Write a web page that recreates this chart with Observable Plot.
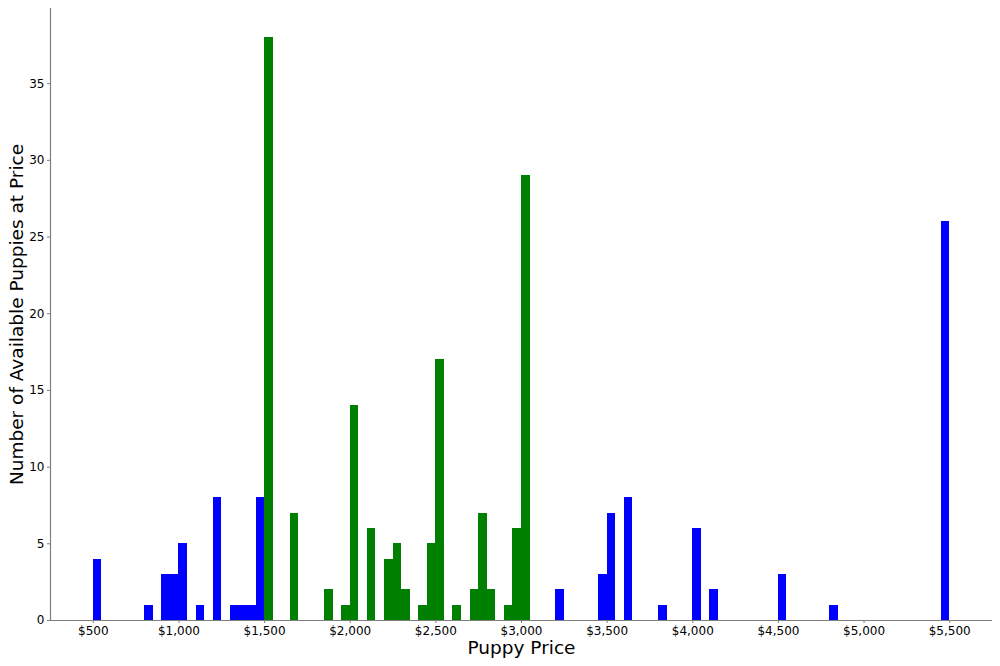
<!DOCTYPE html>
<html>
<head>
<meta charset="utf-8">
<script src="https://cdn.jsdelivr.net/npm/d3@7"></script>
<script src="https://cdn.jsdelivr.net/npm/@observablehq/plot@0.6"></script>
<style>
  html, body { margin: 0; padding: 0; background: #fff; }
  #chart svg { display: block; font-family: "DejaVu Sans", sans-serif; }
</style>
</head>
<body>
<div id="chart"></div>
<script>
// Histogram bins (bin start price, width $50) with non-zero counts
const binStarts = [500, 800, 900, 950, 1000, 1100, 1200, 1300, 1350, 1400, 1450,
  1500, 1650, 1850, 1950, 2000, 2100, 2200, 2250, 2300, 2400, 2450, 2500, 2600,
  2700, 2750, 2800, 2900, 2950, 3000,
  3200, 3450, 3500, 3600, 3800, 4000, 4100, 4500, 4800, 5450];
const counts = [4, 1, 3, 3, 5, 1, 8, 1, 1, 1, 8,
  38, 7, 2, 1, 14, 6, 4, 5, 2, 1, 5, 17, 1,
  2, 7, 2, 1, 6, 29,
  2, 3, 7, 8, 1, 6, 2, 3, 1, 26];
const binWidth = 50;
const xTicks = [500, 1000, 1500, 2000, 2500, 3000, 3500, 4000, 4500, 5000, 5500];
const yTicks = [0, 5, 10, 15, 20, 25, 30, 35];
const xLabel = "Puppy Price";
const yLabel = "Number of Available Puppies at Price";

const bins = binStarts.map((s, i) => ({
  x1: s, x2: s + binWidth, count: counts[i],
  group: (s >= 1500 && s <= 3000) ? "mid" : "out"
}));

const fmt = d => "$" + d3.format(",")(d);

const chart = Plot.plot({
  width: 1000,
  height: 666,
  marginLeft: 50,
  marginRight: 8,
  marginTop: 8,
  marginBottom: 46,
  x: { domain: [250, 5750] },
  y: { domain: [0, 39.9] },
  color: { domain: ["out", "mid"], range: ["#0000ff", "#008000"] },
  marks: [
    Plot.rectY(bins, { x1: "x1", x2: "x2", y: "count", fill: "group", inset: 0, shapeRendering: "crispEdges" }),
    Plot.axisX({ ticks: xTicks, tickFormat: fmt, tickSize: 3, tickPadding: 3,
      fontSize: 12, label: null, stroke: "#808080", color: "#000" }),
    Plot.axisY({ ticks: yTicks, tickSize: 3, tickPadding: 3,
      fontSize: 12, label: null, stroke: "#808080", color: "#000" }),
    Plot.ruleY([0], { stroke: "#808080", strokeWidth: 1.2 }),
    Plot.ruleX([250], { stroke: "#808080", strokeWidth: 1.2 }),
    Plot.text([xLabel], { text: d => d, frameAnchor: "bottom", lineAnchor: "middle", dy: 28, fontSize: 18.5, fill: "#000" }),
    Plot.text([yLabel], { text: d => d, frameAnchor: "left", textAnchor: "middle", lineAnchor: "middle", rotate: -90, dx: -33, fontSize: 18.5, fill: "#000" })
  ]
});
document.getElementById("chart").appendChild(chart);
</script>
</body>
</html>
